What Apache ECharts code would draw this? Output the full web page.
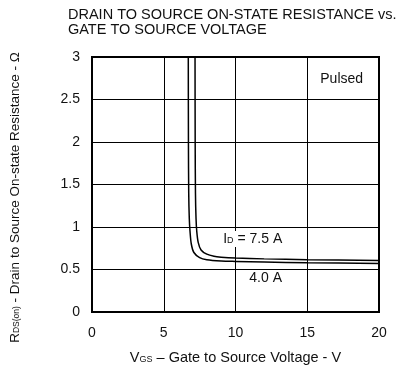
<!DOCTYPE html>
<html><head><meta charset="utf-8">
<script src="https://cdn.jsdelivr.net/npm/echarts@6/dist/echarts.min.js"></script>
<style>html,body{margin:0;padding:0;background:#fff}#c{width:413px;height:378px}</style>
</head><body><div id="c"></div>
<script>
const xTicks = [0, 5, 10, 15, 20];
const yTicks = [0, 0.5, 1, 1.5, 2, 2.5, 3];
// I_D = 7.5 A  [Vgs, Rds(on)]
const vgs75 = [7.18, 7.19, 7.21, 7.25, 7.3, 7.4, 7.6, 8.0, 8.5, 9.0, 10, 12, 15, 20];
const r75   = [3.0, 2.0, 1.4, 1.1, 0.95, 0.82, 0.73, 0.68, 0.655, 0.645, 0.635, 0.625, 0.615, 0.607];
// I_D = 4.0 A
const vgs40 = [6.71, 6.72, 6.74, 6.78, 6.83, 6.92, 7.1, 7.5, 8.0, 9.0, 10, 12, 15, 20];
const r40   = [3.0, 2.0, 1.4, 1.1, 0.95, 0.8, 0.7, 0.64, 0.615, 0.6, 0.595, 0.588, 0.58, 0.572];

const FONT = 'Liberation Sans, Arial, sans-serif';
const chart = echarts.init(document.getElementById('c'));
const zip = (a, b) => a.map((v, i) => [v, b[i]]);
chart.setOption({
  animation: false,
  backgroundColor: '#fff',
  title: {
    text: 'DRAIN TO SOURCE ON-STATE RESISTANCE vs.\nGATE TO SOURCE VOLTAGE',
    left: 63, top: 2,
    textStyle: {fontFamily: FONT, fontSize: 14.5, fontWeight: 'normal', color: '#111', lineHeight: 15}
  },
  grid: {left: 92, right: 34, top: 57, bottom: 66},
  xAxis: {
    type: 'value', min: 0, max: 20, interval: 5,
    axisLine: {show: false}, axisTick: {show: false},
    splitLine: {show: true, lineStyle: {color: '#000', width: 1}},
    axisLabel: {fontFamily: FONT, fontSize: 14, color: '#111', margin: 14}
  },
  yAxis: {
    type: 'value', min: 0, max: 3, interval: 0.5,
    axisLine: {show: false}, axisTick: {show: false},
    splitLine: {show: true, lineStyle: {color: '#000', width: 1}},
    axisLabel: {fontFamily: FONT, fontSize: 14, color: '#111', margin: 12}
  },
  series: [
    {type: 'line', data: zip(vgs75, r75), smooth: 0.3, showSymbol: false,
     lineStyle: {color: '#000', width: 1.5}},
    {type: 'line', data: zip(vgs40, r40), smooth: 0.3, showSymbol: false,
     lineStyle: {color: '#000', width: 1.5}}
  ]
});
const p00 = chart.convertToPixel({gridIndex: 0}, [0, 0]);
const p11 = chart.convertToPixel({gridIndex: 0}, [20, 3]);
const lab75 = chart.convertToPixel({gridIndex: 0}, [11.2, 0.86]);
const lab40 = chart.convertToPixel({gridIndex: 0}, [12.1, 0.4]);
const pul = chart.convertToPixel({gridIndex: 0}, [17.4, 2.74]);
chart.setOption({
  graphic: [
    {type: 'rect', z: 10, silent: true,
     shape: {x: p00[0], y: p11[1], width: p11[0] - p00[0], height: p00[1] - p11[1]},
     style: {fill: 'none', stroke: '#000', lineWidth: 2}},
    {type: 'text', z: 11, x: lab75[0], y: lab75[1],
     style: {text: '{a|I}{b|D}{a| = 7.5 A}', align: 'center', verticalAlign: 'middle',
       backgroundColor: '#fff', padding: [1, 2],
       rich: {a: {fontFamily: FONT, fontSize: 14, fill: '#111'},
              b: {fontFamily: FONT, fontSize: 9, fill: '#111', padding: [4, 0, 0, 0]}}}},
    {type: 'text', z: 11, x: lab40[0], y: lab40[1],
     style: {text: '4.0 A', align: 'center', verticalAlign: 'middle', fontFamily: FONT, fontSize: 14,
       fill: '#111', backgroundColor: '#fff', padding: [1, 3]}},
    {type: 'text', z: 11, x: pul[0], y: pul[1],
     style: {text: 'Pulsed', align: 'center', verticalAlign: 'middle', fontFamily: FONT, fontSize: 14, fill: '#111'}},
    {type: 'text', z: 11, x: (p00[0] + p11[0]) / 2, y: 358,
     style: {text: '{b|V}{s|GS}{b| – Gate to Source Voltage - V}', align: 'center', verticalAlign: 'middle',
       rich: {b: {fontFamily: FONT, fontSize: 14.5, fill: '#111'},
              s: {fontFamily: FONT, fontSize: 9, fill: '#111', padding: [4, 0, 0, 0]}}}},
    {type: 'text', z: 11, x: 15, y: (p00[1] + p11[1]) / 2 + 13, rotation: Math.PI / 2,
     style: {text: '{b|R}{s|DS(on)}{b| - Drain to Source On-state Resistance - Ω}', align: 'center', verticalAlign: 'middle',
       rich: {b: {fontFamily: FONT, fontSize: 13.5, fill: '#111'},
              s: {fontFamily: FONT, fontSize: 8.5, fill: '#111', padding: [4, 0, 0, 0]}}}}
  ]
});
</script></body></html>
